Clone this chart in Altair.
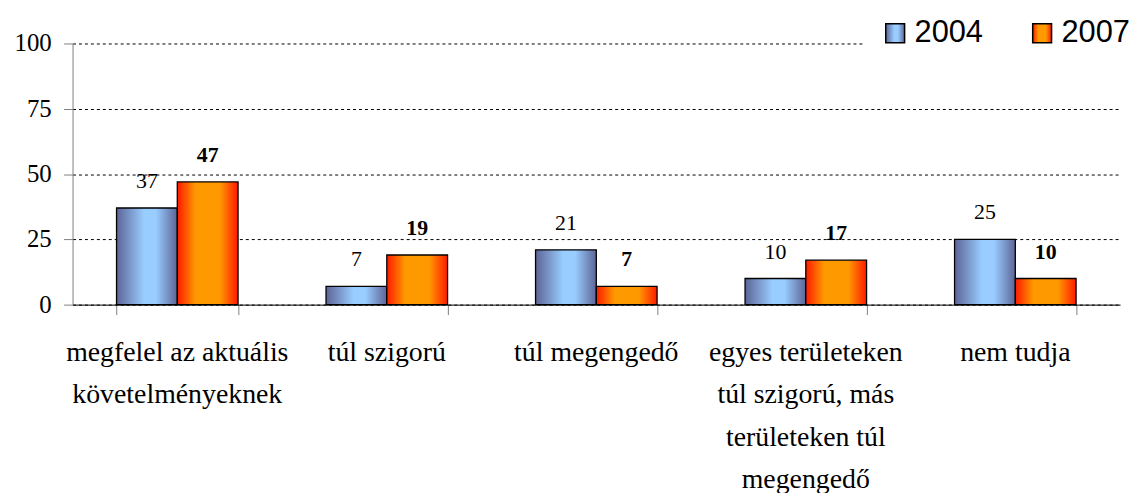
import altair as alt
import pandas as pd

categories = [
    "megfelel az aktuális\nkövetelményeknek",
    "túl szigorú",
    "túl megengedő",
    "egyes területeken\ntúl szigorú, más\nterületeken túl\nmegengedő",
    "nem tudja",
]
years = ["2004", "2007"]
values_2004 = [37, 7, 21, 10, 25]
values_2007 = [47, 19, 7, 17, 10]
y_ticks = [0, 25, 50, 75, 100]

rows = []
for c, a, b in zip(categories, values_2004, values_2007):
    rows.append({"cat": c, "year": "2004", "value": a})
    rows.append({"cat": c, "year": "2007", "value": b})
df = pd.DataFrame(rows)
cat_df = pd.DataFrame({"cat": categories})
tick_df = pd.DataFrame({"tick": y_ticks})

blue_grad = ("{gradient: 'linear', x1: 0, y1: 0, x2: 1, y2: 0, stops: ["
             "{offset: 0, color: '#5d6496'}, {offset: 0.45, color: '#99ccff'}, "
             "{offset: 0.65, color: '#99ccff'}, {offset: 1, color: '#5d6496'}]}")
orange_grad = ("{gradient: 'linear', x1: 0, y1: 0, x2: 1, y2: 0, stops: ["
               "{offset: 0, color: '#ff1a00'}, {offset: 0.3, color: '#ff9900'}, "
               "{offset: 0.7, color: '#ff9900'}, {offset: 1, color: '#ff1a00'}]}")

SERIF = "Liberation Serif"
x_scale = alt.Scale(paddingInner=0.42, paddingOuter=0.21)
y_scale = alt.Scale(domain=[0, 100])
xo = alt.XOffset("year:N", scale=alt.Scale(domain=years, paddingInner=0, paddingOuter=0))

bars = alt.Chart(df).mark_bar(stroke="black", strokeWidth=1.3).encode(
    x=alt.X("cat:N", sort=categories, scale=x_scale,
            axis=alt.Axis(title=None, labels=False, domainColor="black", tickColor="#808080",
                          tickSize=10, tickBand="extent", grid=False)),
    xOffset=xo,
    y=alt.Y("value:Q", scale=y_scale,
            axis=alt.Axis(title=None, values=y_ticks, labels=False, domainColor="#808080",
                          tickColor="#808080", tickSize=9, grid=True, gridColor="black",
                          gridDash=[3, 3], gridWidth=1)),
    fill=alt.Fill(
        "year:N",
        scale=alt.Scale(domain=years, range=[alt.ExprRef(blue_grad), alt.ExprRef(orange_grad)]),
        legend=alt.Legend(
            title=None, orient="none", legendX=798, legendY=-41, direction="horizontal",
            symbolType="square", symbolSize=361, symbolStrokeColor="black",
            symbolStrokeWidth=1.5, labelFont="Liberation Sans", labelFontSize=31,
            labelColor="black", labelOffset=4, columnPadding=44, padding=15,
            fillColor="white",
        ),
    ),
)

def labels(year, weight):
    return alt.Chart(df).transform_filter(f"datum.year == '{year}'").mark_text(
        font=SERIF, fontSize=22, fontWeight=weight, dy=-20,
        baseline="alphabetic", color="black",
    ).encode(
        x=alt.X("cat:N", sort=categories, scale=x_scale),
        xOffset=xo,
        y=alt.Y("value:Q", scale=y_scale),
        text=alt.Text("value:Q"),
    )

# category (x-axis) labels, placed by the x band scale, below the axis
x_labels = alt.Chart(cat_df).mark_text(
    font=SERIF, fontSize=28, lineBreak="\n", lineHeight=42.5, baseline="alphabetic",
    align="center", color="black",
).encode(
    x=alt.X("cat:N", sort=categories, scale=x_scale),
    y=alt.value(263 + 57),
    text="cat:N",
)

# y tick labels, placed by the y scale, left of the axis
y_labels = alt.Chart(tick_df).mark_text(
    font=SERIF, fontSize=25, align="right", baseline="middle", color="black",
).encode(
    x=alt.value(-21),
    y=alt.Y("tick:Q", scale=y_scale),
    text="tick:Q",
)

chart = alt.layer(bars, labels("2004", "normal"), labels("2007", "bold"), x_labels, y_labels).properties(
    width=1055, height=263,
    autosize=alt.AutoSizeParams(type="none"),
    padding={"left": 65, "top": 34, "right": 10, "bottom": 188},
).configure_view(stroke=None)

chart.save("out.html", embed_options={"renderer": "svg", "actions": False})
